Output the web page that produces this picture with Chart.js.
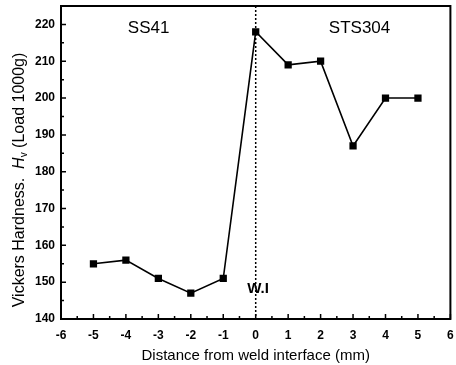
<!DOCTYPE html>
<html>
<head>
<meta charset="utf-8">
<script src="https://cdn.jsdelivr.net/npm/chart.js@4"></script>
<style>
  html, body { margin: 0; padding: 0; background: #fff; }
  #wrap { width: 456px; height: 365px; }
</style>
</head>
<body>
<div id="wrap"><canvas id="chart" width="456" height="365"></canvas></div>
<script>
const distances = [-5, -4, -3, -2, -1, 0, 1, 2, 3, 4, 5];
const hardness = [155, 156, 151, 147, 151, 218, 209, 210, 187, 200, 200];
const xTicks = [-6, -5, -4, -3, -2, -1, 0, 1, 2, 3, 4, 5, 6];
const yTicks = [140, 150, 160, 170, 180, 190, 200, 210, 220];
const xTitle = "Distance from weld interface (mm)";

const FONT = "'Liberation Sans', Arial, sans-serif";

// frame, inward ticks, labels in the plot
const decor = {
    id: "decor",
    afterDatasetsDraw(chart) {
        const { ctx, chartArea: a, scales } = chart;
        const x = scales.x, y = scales.y;
        ctx.save();
        ctx.strokeStyle = "#000";

        // dotted weld interface line
        ctx.lineWidth = 1.5;
        ctx.setLineDash([2, 2]);
        const x0 = x.getPixelForValue(0);
        ctx.beginPath();
        ctx.moveTo(x0, a.top);
        ctx.lineTo(x0, a.bottom);
        ctx.stroke();
        ctx.setLineDash([]);

        // frame
        ctx.lineWidth = 2;
        ctx.strokeRect(a.left, a.top, a.right - a.left, a.bottom - a.top);

        // ticks pointing inward
        ctx.lineWidth = 1.5;
        ctx.beginPath();
        for (let v = -6; v <= 6; v += 0.5) {
            const px = x.getPixelForValue(v);
            const len = Number.isInteger(v) ? 5 : 3;
            ctx.moveTo(px, a.bottom);
            ctx.lineTo(px, a.bottom - len);
        }
        for (let v = 140; v <= 225; v += 5) {
            const py = y.getPixelForValue(v);
            const len = v % 10 === 0 ? 5 : 3;
            ctx.moveTo(a.left, py);
            ctx.lineTo(a.left + len, py);
        }
        ctx.stroke();

        ctx.fillStyle = "#000";
        ctx.textAlign = "center";
        ctx.textBaseline = "middle";
        ctx.font = `17px ${FONT}`;
        ctx.fillText("SS41", x.getPixelForValue(-3.3), y.getPixelForValue(219));
        ctx.fillText("STS304", x.getPixelForValue(3.2), y.getPixelForValue(219));
        ctx.font = `bold 15px ${FONT}`;
        ctx.fillText("W.I", x.getPixelForValue(0.07), y.getPixelForValue(148.2));

        // y axis title with italic H and subscript v
        ctx.translate(20, 180);
        ctx.rotate(-Math.PI / 2);
        const parts = [
            { t: "Vickers Hardness.  ", f: `16px ${FONT}`, dy: 0 },
            { t: "H", f: `italic 16px ${FONT}`, dy: 0 },
            { t: "v", f: `10px ${FONT}`, dy: 4 },
            { t: " (Load 1000g)", f: `16px ${FONT}`, dy: 0 },
        ];
        let total = 0;
        for (const p of parts) { ctx.font = p.f; total += ctx.measureText(p.t).width; }
        let cx = -total / 2;
        ctx.textAlign = "left";
        for (const p of parts) {
            ctx.font = p.f;
            ctx.fillText(p.t, cx, p.dy);
            cx += ctx.measureText(p.t).width;
        }
        ctx.restore();
    },
};

function noPad(s) {
    s.paddingTop = 0;
    s.paddingBottom = 0;
    s.paddingLeft = 0;
    s.paddingRight = 0;
}

const ctx = document.getElementById("chart");
new Chart(ctx, {
    type: "line",
    data: {
        datasets: [
            {
                data: distances.map((d, i) => ({ x: d, y: hardness[i] })),
                borderColor: "#000",
                backgroundColor: "#000",
                borderWidth: 1.6,
                pointStyle: "rect",
                pointRadius: 4,
                pointHoverRadius: 4,
                tension: 0,
            },
        ],
    },
    options: {
        responsive: false,
        animation: false,
        layout: { padding: { top: 6, right: 5, left: 0, bottom: 0 } },
        plugins: { legend: { display: false }, tooltip: { enabled: false } },
        scales: {
            x: {
                type: "linear",
                min: -6,
                max: 6,
                afterBuildTicks: (s) => { s.ticks = xTicks.map((v) => ({ value: v })); },
                afterFit: (s) => { s.height = 46; noPad(s); },
                grid: { display: false, drawTicks: false },
                border: { display: false },
                ticks: {
                    color: "#000",
                    padding: 9,
                    font: { family: FONT, size: 12, weight: "bold" },
                },
                title: {
                    display: true,
                    text: xTitle,
                    color: "#000",
                    padding: { top: 3, bottom: 0 },
                    font: { family: FONT, size: 15 },
                },
            },
            y: {
                min: 140,
                max: 225,
                afterBuildTicks: (s) => { s.ticks = yTicks.map((v) => ({ value: v })); },
                afterFit: (s) => { s.width = 61; noPad(s); },
                grid: { display: false, drawTicks: false },
                border: { display: false },
                ticks: {
                    color: "#000",
                    padding: 6,
                    font: { family: FONT, size: 12, weight: "bold" },
                },
            },
        },
    },
    plugins: [decor],
});
</script>
</body>
</html>
